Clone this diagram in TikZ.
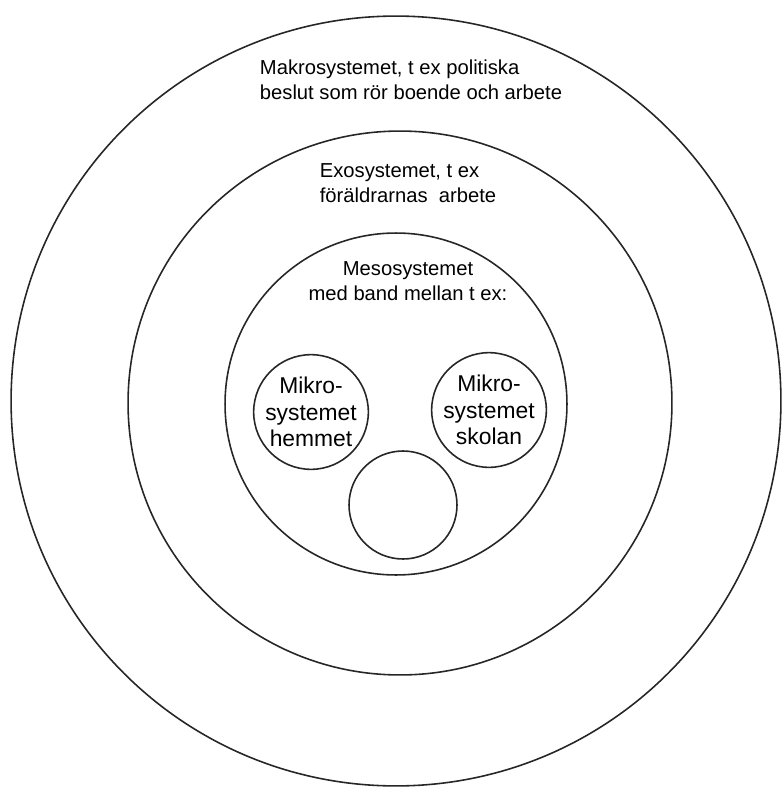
\documentclass[tikz,border=0pt]{standalone}
\usepackage{fontspec}
\setmainfont{Liberation Sans}
\usetikzlibrary{positioning}

\begin{document}
\begin{tikzpicture}
        [x=0.02cm, y=-0.02cm,
         every node/.style={align=center, font=\fontsize{11.5}{14}\selectfont},
         ring/.style={circle, draw=black!85, line width=0.9pt, inner sep=0pt},
         mikro/.style={ring, minimum size=2.24cm, font=\fontsize{13}{15}\selectfont}]
        \useasboundingbox (0,0) rectangle (781,794);
        \node [ring, minimum size=15.4cm] (makro) at (396,401) { };
        \node [ring, minimum size=10.88cm] (exo) at (400,403) { };
        \node [ring, minimum size=6.84cm] (meso) at (396,404) { };
        \node [mikro] (hemmet) at (311,412) {Mikro-\\systemet\\hemmet};
        \node [mikro] (skolan) at (489,410) {Mikro-\\systemet\\skolan};
        \node [ring, minimum size=2.16cm] (tredje) at (403,505) { };
        \node [align=left] (makrotext) at (411,80) {Makrosystemet, t ex politiska\\beslut som rör boende och arbete};
        \node [align=left] (exotext) at (408,183) {Exosystemet, t ex\\föräldrarnas\ \ arbete};
        \node (mesotext) at (408,281) {Mesosystemet\\med band mellan t ex:};
    \end{tikzpicture}
\end{document}
